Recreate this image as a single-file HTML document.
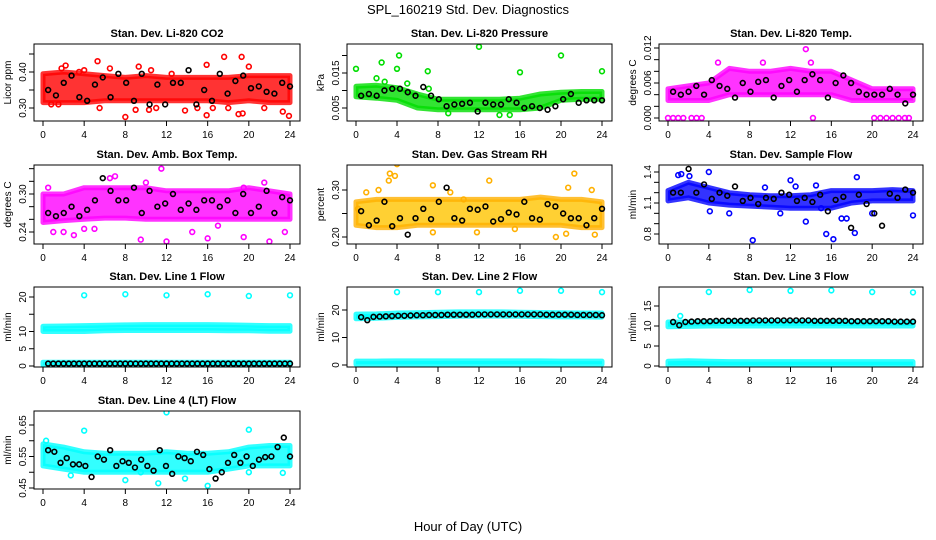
<!DOCTYPE html>
<html><head><meta charset="utf-8"><style>
html,body{margin:0;padding:0;background:#fff;}
svg{display:block;font-family:"Liberation Sans",sans-serif;}
</style></head><body>
<svg id="chart" width="936" height="540" viewBox="0 0 936 540">
<text x="468" y="14" text-anchor="middle" font-size="13">SPL_160219  Std. Dev. Diagnostics</text>
<text x="468" y="531" text-anchor="middle" font-size="13">Hour of Day (UTC)</text>
</svg>
<script>
const bandHours = [0,2,4,6,8,10,12,14,16,18,20,22,24];
const xTicks = [0,4,8,12,16,20,24];

const co2Lo = [0.315,0.315,0.315,0.32,0.32,0.32,0.32,0.32,0.32,0.315,0.32,0.315,0.315];
const co2Hi = [0.395,0.4,0.395,0.39,0.385,0.39,0.385,0.385,0.385,0.385,0.39,0.39,0.39];
const co2Out = [[5.3,0.43],[9.3,0.415],[17.6,0.442],[19.3,0.442],[20,0.415],[15.9,0.42],[2.2,0.418],[1.8,0.41],[0.8,0.31],[1.5,0.31],[5.5,0.30],[8,0.275],[9,0.295],[10.3,0.295],[13.8,0.293],[15,0.30],[15.9,0.28],[19,0.283],[19.4,0.285],[23.3,0.29],[23.9,0.278],[21.5,0.30],[16.5,0.30],[4,0.405],[12.5,0.395],[6.5,0.41],[3.5,0.40],[10.5,0.405],[11,0.30],[18,0.30]];
const co2Black = [0.35,0.335,0.37,0.39,0.33,0.32,0.365,0.385,0.33,0.395,0.37,0.32,0.395,0.31,0.365,0.31,0.37,0.37,0.405,0.31,0.35,0.32,0.395,0.34,0.375,0.39,0.355,0.36,0.345,0.34,0.37,0.36];

const presLo = [0.0082,0.0078,0.0072,0.005,0.0045,0.0045,0.0045,0.0045,0.0045,0.005,0.0072,0.0075,0.0075];
const presHi = [0.0112,0.0115,0.0108,0.009,0.0075,0.0075,0.0075,0.0075,0.0078,0.009,0.0095,0.0097,0.0097];
const presOut = [[0,0.0162],[2.5,0.018],[2,0.0135],[4.2,0.020],[4,0.0162],[7,0.0155],[7.1,0.0105],[12,0.0225],[16,0.0152],[20,0.020],[24,0.0155],[5,0.012],[2.8,0.0125],[14,0.003],[15,0.003],[9,0.0035]];
const presBlack = [0.0085,0.009,0.0085,0.01,0.0105,0.0105,0.0095,0.0085,0.011,0.0085,0.0075,0.0055,0.006,0.0062,0.0065,0.004,0.0065,0.006,0.006,0.0075,0.0065,0.005,0.0055,0.005,0.0045,0.0055,0.0075,0.009,0.0065,0.0072,0.0072,0.0072];

const tempLo = [0.003,0.003,0.003,0.004,0.004,0.004,0.004,0.004,0.004,0.003,0.003,0.003,0.003];
const tempHi = [0.005,0.0055,0.006,0.0085,0.008,0.008,0.0085,0.008,0.008,0.0065,0.005,0.005,0.005];
const tempOut = [[0,0],[0.5,0],[1,0],[1.5,0],[2.3,0],[2.8,0],[3.3,0],[14.2,0],[20.2,0],[20.8,0],[21.4,0],[22,0],[22.6,0],[23.2,0],[23.6,0],[13.5,0.0118],[4.9,0.0095],[9.3,0.0095],[14,0.0095]];
const tempBlack = [0.0045,0.004,0.0045,0.0055,0.004,0.0065,0.0055,0.005,0.0035,0.006,0.0045,0.0062,0.0065,0.0035,0.0055,0.0065,0.0045,0.0065,0.0075,0.0065,0.0035,0.006,0.0073,0.006,0.0045,0.004,0.004,0.004,0.005,0.004,0.0025,0.004];

const ambLo = [0.255,0.258,0.26,0.262,0.262,0.26,0.26,0.26,0.26,0.26,0.26,0.26,0.26];
const ambHi = [0.3,0.3,0.31,0.31,0.31,0.31,0.305,0.305,0.305,0.305,0.31,0.305,0.3];
const ambOut = [[11.5,0.34],[6.5,0.325],[7,0.328],[19.5,0.31],[1,0.24],[3,0.235],[5,0.245],[9.5,0.228],[12,0.225],[14.5,0.24],[16,0.23],[19.5,0.232],[22,0.225],[23.5,0.24],[4,0.245],[0.5,0.31],[2,0.24],[17,0.25],[10,0.318],[21.5,0.318]];
const ambBlack = [0.27,0.265,0.27,0.28,0.265,0.275,0.29,0.325,0.305,0.29,0.29,0.31,0.27,0.305,0.28,0.285,0.3,0.275,0.285,0.275,0.29,0.29,0.28,0.29,0.27,0.3,0.27,0.28,0.305,0.27,0.295,0.29];

const rhLo = [0.225,0.22,0.22,0.225,0.225,0.225,0.225,0.225,0.225,0.225,0.225,0.22,0.22];
const rhHi = [0.275,0.28,0.28,0.28,0.28,0.28,0.28,0.28,0.28,0.285,0.28,0.28,0.275];
const rhOut = [[4,0.355],[3.8,0.33],[3.3,0.335],[3.2,0.32],[7.5,0.31],[13,0.32],[20.7,0.305],[21.3,0.335],[23,0.30],[19.5,0.2],[23.3,0.205],[7.5,0.21],[11.8,0.21],[0.2,0.26],[2.2,0.3],[1,0.295],[15.5,0.217],[20.5,0.207],[9.2,0.295],[10.5,0.28]];
const rhBlack = [0.255,0.225,0.235,0.275,0.223,0.24,0.205,0.24,0.26,0.238,0.275,0.305,0.24,0.235,0.26,0.258,0.265,0.233,0.238,0.252,0.248,0.275,0.24,0.237,0.27,0.265,0.25,0.24,0.24,0.225,0.24,0.26];

const flowLo = [1.12,1.15,1.1,1.08,1.07,1.06,1.05,1.05,1.05,1.1,1.12,1.12,1.12];
const flowHi = [1.22,1.3,1.25,1.2,1.18,1.17,1.17,1.18,1.22,1.22,1.22,1.23,1.22];
const flowOut = [[1,1.37],[1.3,1.38],[2.1,1.36],[4,1.4],[6,1.0],[8.3,0.74],[12,1.32],[12.5,1.26],[14.5,1.27],[15.5,0.8],[16.2,0.75],[17,0.95],[17.5,0.95],[18.3,0.81],[18.5,1.35],[13.5,0.92],[4.1,1.02],[11,1.0],[20,1.0],[24,0.98],[15,1.05],[9.5,1.25]];
const flowBlack = [1.2,1.2,1.43,1.2,1.28,1.14,1.2,1.17,1.26,1.12,1.15,1.09,1.15,1.14,1.2,1.18,1.12,1.15,1.11,1.18,1.02,1.13,1.16,0.86,1.18,1.09,1.0,0.88,1.19,1.15,1.23,1.2];

const l1Lo = [10,10,10,10.2,10.3,10.3,10.3,10.3,10.3,10.2,10.2,10.1,10.1];
const l1Hi = [11.5,11.6,11.7,11.8,11.9,12,12,12,12,11.9,11.8,11.7,11.7];
const l1Lo2 = [0.3,0.3,0.3,0.3,0.3,0.3,0.3,0.3,0.3,0.3,0.3,0.3,0.3];
const l1Hi2 = [1.1,1.1,1.1,1.1,1.1,1.1,1.1,1.1,1.1,1.1,1.1,1.1,1.1];
const l1Out = [[4,20.5],[8,20.8],[12,20.5],[16,20.8],[20,20.3],[24,20.5]];
const l1Black = [0.7,0.7,0.7,0.7,0.7,0.7,0.7,0.7,0.7,0.7,0.7,0.7,0.7,0.7,0.7,0.7,0.7,0.7,0.7,0.7,0.7,0.7,0.7,0.7,0.7,0.7,0.7,0.7,0.7,0.7,0.7,0.7,0.7,0.7,0.7,0.7,0.7,0.7,0.7,0.7,0.7,0.7,0.7,0.7,0.7,0.7,0.7,0.7];

const l2Lo = [16.8,17,17.3,17.5,17.6,17.7,17.8,17.8,17.7,17.6,17.5,17.5,17.4];
const l2Hi = [18.5,18.6,18.9,19,19.2,19.3,19.3,19.3,19.2,19.1,19,18.9,18.9];
const l2Lo2 = [0.2,0.2,0.2,0.2,0.2,0.2,0.2,0.2,0.2,0.2,0.2,0.2,0.2];
const l2Hi2 = [1.4,1.4,1.5,1.5,1.5,1.5,1.5,1.5,1.5,1.5,1.4,1.4,1.4];
const l2Out = [[4,26.5],[8,26.5],[12,26.5],[16,27],[20,27],[24,26.5]];
const l2Black = [17.4,16.3,17.5,17.6,17.7,17.8,17.9,17.9,18.0,18.1,18.1,18.2,18.2,18.2,18.3,18.3,18.3,18.3,18.3,18.4,18.4,18.4,18.4,18.4,18.4,18.4,18.4,18.4,18.4,18.4,18.3,18.3,18.3,18.3,18.3,18.2,18.2,18.2,18.2,18.1];

const l3Lo = [9.8,9.9,10,10,10,10,10,10,10,10,10,10,10];
const l3Hi = [11,11,11,11.1,11.1,11.1,11.1,11.1,11.1,11,11,11,11];
const l3Lo2 = [0.2,0.2,0.2,0.2,0.2,0.2,0.2,0.2,0.2,0.2,0.2,0.2,0.2];
const l3Hi2 = [1.2,1.3,1.2,1.1,1.1,1.1,1.1,1.1,1.1,1.1,1.1,1.1,1.1];
const l3Out = [[4,18.5],[8,19],[12,18.8],[16,18.9],[20,18.5],[24,18.4],[1.2,12.5]];
const l3Black = [11,10.2,11,11.1,11.2,11.2,11.2,11.3,11.3,11.3,11.3,11.3,11.3,11.4,11.4,11.4,11.4,11.4,11.4,11.4,11.4,11.4,11.4,11.3,11.3,11.3,11.3,11.3,11.3,11.2,11.2,11.2,11.2,11.2,11.2,11.2,11.1,11.1,11.1,11.1];

const l4Lo = [0.52,0.51,0.5,0.5,0.5,0.5,0.5,0.5,0.5,0.51,0.52,0.52,0.52];
const l4Hi = [0.59,0.58,0.565,0.56,0.56,0.56,0.565,0.56,0.56,0.565,0.58,0.585,0.585];
const l4Out = [[4,0.632],[12,0.69],[20,0.635],[8,0.475],[11.2,0.465],[16,0.457],[2.7,0.49],[9.5,0.5],[13.8,0.48],[20,0.5],[23.3,0.498],[0.3,0.6]];
const l4Black = [0.57,0.565,0.53,0.545,0.525,0.525,0.52,0.485,0.55,0.54,0.57,0.52,0.535,0.53,0.515,0.54,0.52,0.505,0.57,0.52,0.495,0.55,0.545,0.535,0.565,0.555,0.51,0.48,0.5,0.53,0.555,0.53,0.55,0.52,0.54,0.548,0.55,0.58,0.61,0.55];

const NS = "http://www.w3.org/2000/svg";
const svg = document.getElementById('chart');
function mk(tag, attrs, parent){const e=document.createElementNS(NS,tag);for(const k in attrs)e.setAttribute(k,attrs[k]);(parent||svg).appendChild(e);return e;}

const cols = [[34,300],[347,612],[659,923]];
const rows = [[44,121],[165,244],[287,367],[411,489]];

const panels = [
 {key:'co2',title:'Stan. Dev. Li-820 CO2',ylab:'Licor ppm',c:0,r:0,v1:0.30,p1:108,v2:0.40,p2:72,ticks:[0.30,0.35,0.40,0.45],labs:['0.30','','0.40',''],col:'#ff0000',lo:co2Lo,hi:co2Hi,out:co2Out,blk:co2Black},
 {key:'pres',title:'Stan. Dev. Li-820 Pressure',ylab:'kPa',c:1,r:0,v1:0.005,p1:108,v2:0.015,p2:73,ticks:[0.005,0.010,0.015,0.020],labs:['0.005','','0.015',''],col:'#00dd00',lo:presLo,hi:presHi,out:presOut,blk:presBlack},
 {key:'temp',title:'Stan. Dev. Li-820 Temp.',ylab:'degrees C',c:2,r:0,v1:0,p1:118,v2:0.012,p2:48,ticks:[0,0.002,0.004,0.006,0.008,0.010,0.012],labs:['0.000','','','0.006','','','0.012'],col:'#ff00ff',lo:tempLo,hi:tempHi,out:tempOut,blk:tempBlack},
 {key:'amb',title:'Stan. Dev. Amb. Box Temp.',ylab:'degrees C',c:0,r:1,v1:0.24,p1:232,v2:0.30,p2:194,ticks:[0.24,0.26,0.28,0.30,0.32,0.34],labs:['0.24','','','0.30','',''],col:'#ff00ff',lo:ambLo,hi:ambHi,out:ambOut,blk:ambBlack},
 {key:'rh',title:'Stan. Dev. Gas Stream RH',ylab:'percent',c:1,r:1,v1:0.20,p1:237,v2:0.30,p2:190,ticks:[0.20,0.25,0.30],labs:['0.20','','0.30'],col:'#ffb000',fill:'#ffc400',lo:rhLo,hi:rhHi,out:rhOut,blk:rhBlack},
 {key:'flow',title:'Stan. Dev. Sample Flow',ylab:'ml/min',c:2,r:1,v1:0.8,p1:234,v2:1.4,p2:172,ticks:[0.8,0.9,1.0,1.1,1.2,1.3,1.4],labs:['0.8','','','1.1','','','1.4'],col:'#0000ff',lo:flowLo,hi:flowHi,out:flowOut,blk:flowBlack},
 {key:'l1',title:'Stan. Dev. Line 1 Flow',ylab:'ml/min',c:0,r:2,v1:0,p1:366,v2:20,p2:297,ticks:[0,5,10,15,20],labs:['0','5','10','','20'],col:'#00ffff',lo:l1Lo,hi:l1Hi,lo2:l1Lo2,hi2:l1Hi2,out:l1Out,blk:l1Black},
 {key:'l2',title:'Stan. Dev. Line 2 Flow',ylab:'ml/min',c:1,r:2,v1:0,p1:365,v2:20,p2:310,ticks:[0,10,20],labs:['0','10','20'],col:'#00ffff',lo:l2Lo,hi:l2Hi,lo2:l2Lo2,hi2:l2Hi2,out:l2Out,blk:l2Black},
 {key:'l3',title:'Stan. Dev. Line 3 Flow',ylab:'ml/min',c:2,r:2,v1:0,p1:366,v2:15,p2:306,ticks:[0,5,10,15],labs:['0','5','10','15'],col:'#00ffff',lo:l3Lo,hi:l3Hi,lo2:l3Lo2,hi2:l3Hi2,out:l3Out,blk:l3Black},
 {key:'l4',title:'Stan. Dev. Line 4 (LT) Flow',ylab:'ml/min',c:0,r:3,v1:0.45,p1:488,v2:0.65,p2:425,ticks:[0.45,0.50,0.55,0.60,0.65],labs:['0.45','','0.55','','0.65'],col:'#00ffff',lo:l4Lo,hi:l4Hi,out:l4Out,blk:l4Black}
];

panels.forEach(p=>{
  const [L,R]=cols[p.c],[T,B]=rows[p.r];
  const xs=h=>L+9+h*(R-L-19)/24;
  const ys=v=>p.p1+(v-p.v1)*(p.p2-p.p1)/(p.v2-p.v1);
  const g=mk('g',{});
  
  
  const clipId='clip-'+p.key;
  const cp=mk('clipPath',{id:clipId},g);mk('rect',{x:L,y:T,width:R-L,height:B-T},cp);
  const plot=mk('g',{'clip-path':'url(#'+clipId+')'},g);
  const bands=[[p.lo,p.hi]];if(p.lo2)bands.push([p.lo2,p.hi2]);
  bands.forEach(([lo,hi],bi)=>{
    let d='';
    bandHours.forEach((h,i)=>{d+=(i?'L':'M')+xs(h).toFixed(1)+' '+ys(hi[i]).toFixed(1);});
    for(let i=bandHours.length-1;i>=0;i--)d+='L'+xs(bandHours[i]).toFixed(1)+' '+ys(lo[i]).toFixed(1);
    const band=mk('path',{d:d+'Z',fill:p.fill||p.col,'fill-opacity':0.8,stroke:p.col,'stroke-opacity':0.8,'stroke-width':5,'stroke-linejoin':'round'},plot);
    
    
  });
  p.out.forEach(([h,v])=>{
    const c=mk('circle',{cx:xs(h),cy:ys(v),r:2.4,fill:'none',stroke:p.col,'stroke-width':1.6},plot);
    
    
  });
  const n=p.blk.length;
  p.blk.forEach((v,i)=>{
    const h=0.5+i*23.5/(n-1);
    const c=mk('circle',{cx:xs(h),cy:ys(v),r:2.4,fill:'none',stroke:'#000','stroke-width':1.6},plot);
    
    
  });
  const box=mk('rect',{x:L,y:T,width:R-L,height:B-T,fill:'none',stroke:'#000','stroke-width':1},g);
  
  
  const title=mk('text',{x:(L+R)/2,y:T-7,'text-anchor':'middle','font-size':11,'font-weight':'bold'},g);
  title.textContent=p.title;
  
  
  xTicks.forEach(t=>{
    mk('line',{x1:xs(t),x2:xs(t),y1:B,y2:B+5,stroke:'#000'},g);
    const tl=mk('text',{x:xs(t),y:B+17,'text-anchor':'middle','font-size':10},g);
    tl.textContent=t;
    
    
  });
  p.ticks.forEach((t,i)=>{
    const y=ys(t);
    mk('line',{x1:L-5,x2:L,y1:y,y2:y,stroke:'#000'},g);
  });
  p.labs.forEach((s,i)=>{
    if(!s)return;
    const y=ys(p.ticks[i]);
    const tl=mk('text',{x:0,y:0,'text-anchor':'middle','font-size':10,transform:'translate('+(L-8)+','+y+') rotate(-90)'},g);
    tl.textContent=s;
    
    
  });
  const yl=mk('text',{x:0,y:0,'text-anchor':'middle','font-size':10,transform:'translate('+(L-23)+','+((T+B)/2)+') rotate(-90)'},g);
  yl.textContent=p.ylab;
  
  
});
</script>
</body></html>
